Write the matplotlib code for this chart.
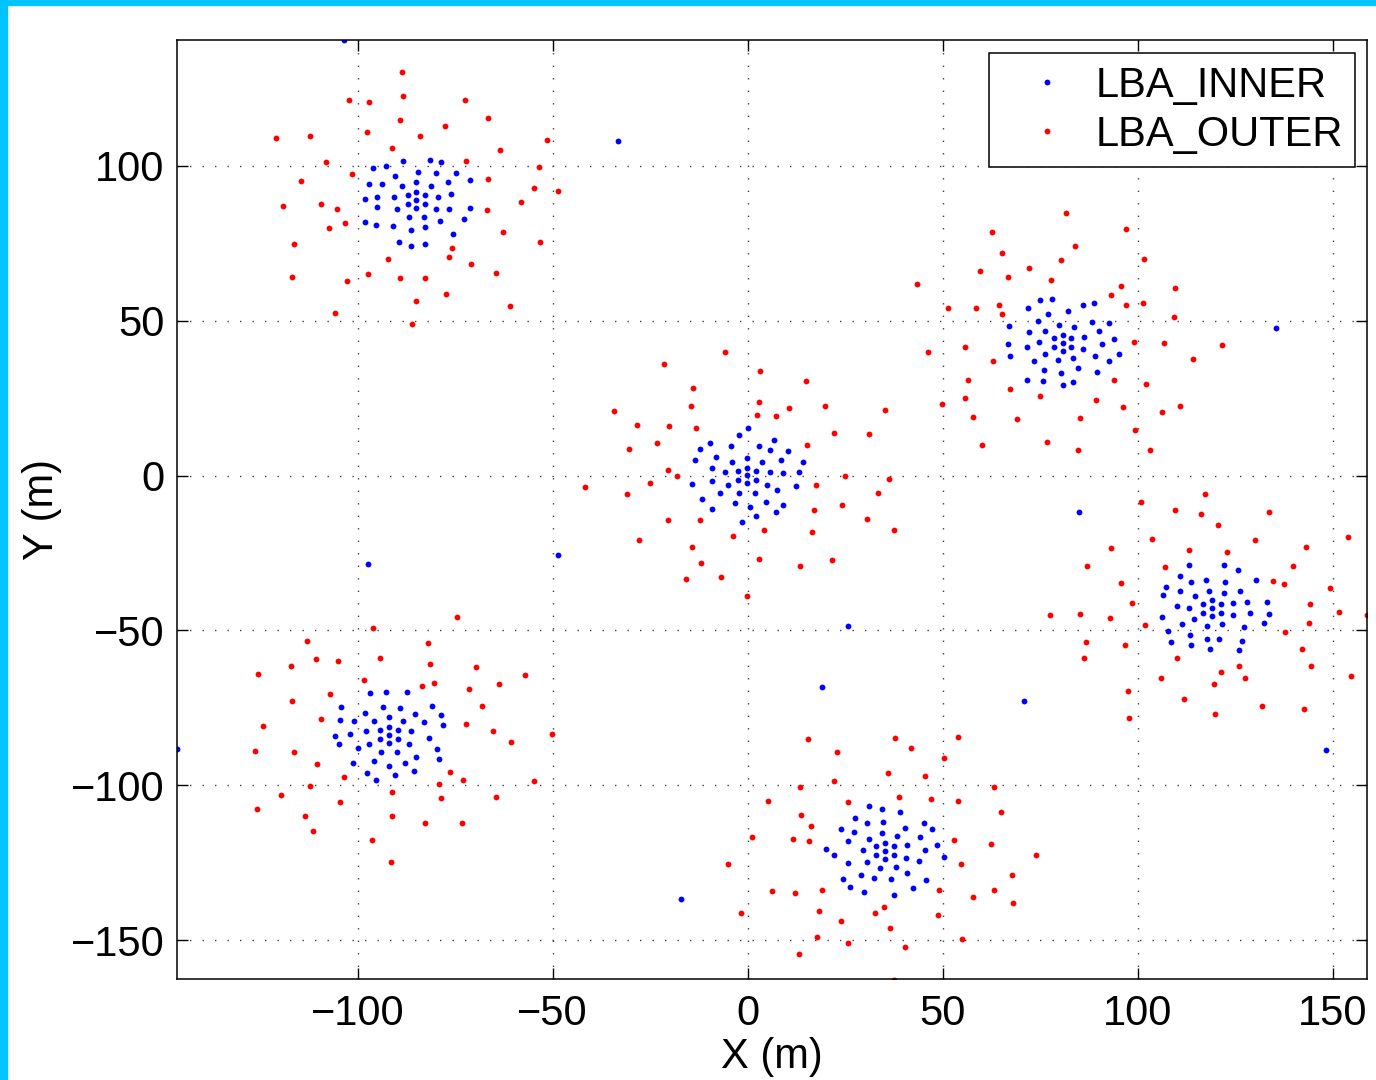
import numpy as np
import matplotlib
matplotlib.use("Agg")
import matplotlib.pyplot as plt
from matplotlib.patches import Rectangle

plt.rcParams['font.family'] = ['Liberation Sans', 'DejaVu Sans']

# antenna positions (m), one list per station
st1_outer = [(-88.6,130.3),(-102.3,121.2),(-97.0,120.7),(-88.3,122.5),(-72.5,121.2),(-66.6,115.5),
             (-89.2,114.8),(-77.6,112.7),(-121.0,108.9),(-112.3,109.6),(-97.6,110.8),(-84.1,109.5),
             (-51.5,108.4),(-91.2,105.8),(-63.4,105.2),(-108.1,101.2),(-72.1,101.5),(-53.6,99.6),
             (-101.4,97.4),(-114.4,95.0),(-66.5,95.6),(-54.8,92.9),(-48.5,92.0),(-58.1,88.3),
             (-119.1,86.9),(-109.5,87.5),(-105.4,85.9),(-66.7,85.7),(-103.3,81.4),(-107.2,79.8),
             (-62.6,78.7),(-116.2,74.9),(-53.2,75.3),(-75.9,73.6),(-76.6,70.7),(-92.1,69.9),
             (-70.9,68.4),(-64.4,65.4),(-97.3,65.2),(-116.8,64.1),(-89.0,63.7),(-82.6,63.8),
             (-102.8,62.8),(-77.4,58.6),(-85.0,56.3),(-61.0,54.8),(-105.7,52.5),(-86.0,49.0)]
st1_inner = [(-88.4,101.6),(-81.4,101.7),(-78.6,101.2),(-96.1,99.2),(-92.8,100.0),(-84.6,98.0),
             (-79.9,97.5),(-74.8,97.5),(-90.3,96.7),(-97.1,94.1),(-93.7,94.1),(-85.0,94.8),
             (-88.7,93.4),(-81.3,93.4),(-76.7,94.6),(-71.3,95.4),(-85.0,91.6),(-87.2,90.4),
             (-82.8,90.4),(-76.0,90.8),(-98.2,89.2),(-95.1,90.0),(-90.7,90.0),(-79.3,90.0),
             (-85.0,89.0),(-87.2,87.7),(-82.8,87.7),(-94.9,86.7),(-90.0,86.1),(-85.0,86.4),
             (-80.0,86.1),(-76.5,86.0),(-71.2,86.5),(-86.9,83.5),(-83.1,83.5),(-98.1,81.7),
             (-95.3,80.8),(-91.0,80.6),(-79.0,82.1),(-72.6,82.8),(-86.2,79.3),(-82.6,80.1),
             (-75.5,78.1),(-89.3,75.5),(-86.4,74.2),(-82.6,74.9)]

st2_outer = [(-5.8,39.8),(-21.5,36.1),(3.2,33.9),(15.0,30.4),(-13.9,28.3),(3.0,23.7),(-14.6,22.4),
             (10.6,21.9),(19.7,22.4),(-34.3,20.7),(35.1,21.1),(2.4,19.6),(7.3,19.1),(-28.4,16.3),
             (-20.1,15.9),(-13.2,15.5),(22.0,13.9),(31.2,13.4),(-23.2,10.6),(-30.3,8.5),(15.2,9.9),
             (-20.3,1.8),(-18.1,-0.3),(25.0,0.0),(36.3,-1.2),(-41.7,-3.8),(-25.0,-2.3),(17.4,-3.2),
             (-30.9,-6.0),(33.3,-5.5),(24.1,-9.4),(17.0,-11.2),(-20.4,-14.3),(-12.2,-14.3),
             (30.6,-14.0),(37.4,-17.6),(4.1,-17.6),(16.6,-18.2),(-3.8,-19.5),(-27.9,-20.8),
             (-14.4,-23.1),(3.0,-26.8),(21.5,-27.2),(-12.0,-28.3),(13.5,-29.3),(-6.8,-32.7),
             (-15.9,-33.3),(-0.2,-38.9)]
st2_inner = [(0.1,15.2),(-2.1,13.0),(6.7,11.5),(-9.7,10.5),(-4.4,9.5),(2.8,9.6),(-12.1,8.6),
             (5.7,8.3),(10.3,8.0),(-8.0,5.9),(-0.1,5.8),(-13.6,5.1),(-3.9,4.5),(3.6,4.5),(8.6,5.1),
             (14.3,4.5),(-9.1,2.5),(-0.1,2.6),(-5.8,1.0),(-2.4,1.4),(2.1,1.4),(5.6,1.0),(9.1,0.9),
             (13.2,1.3),(-0.1,0.1),(-14.3,-2.8),(-9.1,-1.7),(-2.4,-1.3),(2.1,-1.3),(-0.1,-2.5),
             (-5.0,-2.9),(5.0,-2.9),(12.5,-3.3),(-7.0,-5.7),(-2.1,-5.5),(1.9,-5.5),(7.4,-4.7),
             (-11.7,-7.7),(-3.2,-8.8),(4.6,-8.6),(9.1,-9.5),(0.6,-10.0),(-9.2,-10.8),(2.1,-13.0),
             (7.3,-11.6),(-1.5,-15.0)]

st3_outer = [(81.7,84.8),(96.9,79.7),(62.6,78.7),(83.9,74.2),(65.2,71.7),(80.2,69.5),(101.5,69.9),
             (72.2,67.0),(59.6,66.1),(66.7,64.0),(77.8,63.0),(43.4,61.7),(95.7,61.3),(109.6,60.7),
             (93.1,58.2),(51.3,54.0),(58.4,54.2),(64.4,55.1),(97.1,55.1),(101.4,55.7),(65.2,52.2),
             (109.4,51.3),(46.2,40.0),(55.8,41.5),(98.9,43.1),(106.8,42.9),(121.7,42.1),(62.8,37.1),
             (114.2,37.6),(56.4,30.8),(93.8,30.8),(102.0,29.5),(67.2,28.1),(75.0,25.6),(55.6,25.1),
             (89.3,24.4),(49.7,23.1),(110.9,22.5),(96.3,22.1),(106.1,20.5),(57.7,18.8),(69.1,18.4),
             (85.1,18.5),(99.2,14.8),(60.1,9.9),(76.8,10.8),(84.6,8.4),(103.1,8.1)]
st3_inner = [(75.0,56.6),(78.1,56.9),(71.9,54.2),(85.9,55.0),(88.8,55.7),(82.1,53.1),(77.1,52.2),
             (74.3,49.8),(88.3,49.6),(92.5,49.1),(67.1,48.2),(79.8,48.7),(83.7,47.8),(76.3,46.8),
             (90.1,46.8),(72.1,46.2),(80.7,45.4),(78.4,44.4),(82.9,44.3),(86.2,44.6),(93.8,44.2),
             (74.8,43.1),(80.7,42.9),(66.7,42.6),(90.7,42.5),(71.7,41.6),(78.5,41.6),(82.9,41.5),
             (80.7,40.3),(86.0,40.7),(76.1,39.3),(95.2,39.1),(67.2,38.6),(88.9,38.7),(79.5,37.2),
             (83.3,37.8),(73.4,37.1),(92.7,37.0),(84.6,34.8),(76.0,34.1),(80.2,33.1),(89.6,33.4),
             (71.5,30.9),(75.6,30.6),(83.4,30.1),(80.8,29.1)]

st4_outer = [(117.1,-6.0),(100.7,-8.6),(109.5,-11.0),(116.1,-12.4),(133.7,-11.6),(120.6,-15.8),
             (103.6,-20.6),(130.1,-20.7),(153.8,-19.9),(93.1,-23.4),(113.0,-23.9),(122.9,-24.6),
             (143.2,-23.0),(87.1,-29.1),(106.9,-29.4),(139.8,-29.3),(95.6,-34.6),(134.6,-34.1),
             (137.6,-35.0),(149.3,-36.2),(98.6,-41.2),(144.2,-41.4),(77.5,-45.0),(85.2,-44.8),
             (93.0,-46.0),(151.5,-43.9),(158.8,-45.0),(101.9,-48.3),(144.0,-47.6),(137.8,-50.5),
             (86.8,-53.8),(96.8,-54.6),(142.1,-55.9),(86.1,-58.9),(110.0,-58.8),(144.4,-61.4),
             (125.9,-61.4),(121.4,-63.3),(106.0,-65.5),(127.4,-65.3),(154.6,-64.8),(119.6,-67.2),
             (97.5,-69.5),(111.9,-72.1),(131.9,-74.5),(142.6,-75.4),(97.7,-78.1),(119.8,-76.9)]
st4_inner = [(113.2,-28.9),(122.0,-29.0),(125.7,-30.6),(110.9,-32.3),(113.7,-34.3),(117.5,-33.6),
             (122.4,-34.5),(130.2,-33.7),(107.1,-36.0),(110.7,-37.4),(118.2,-37.1),(122.1,-37.9),
             (126.2,-37.1),(106.4,-38.7),(114.7,-38.9),(119.0,-40.2),(116.8,-41.5),(121.3,-41.5),
             (124.4,-41.1),(128.1,-40.8),(133.2,-40.9),(110.0,-42.2),(113.2,-42.7),(119.0,-42.8),
             (116.8,-44.2),(121.3,-44.2),(124.4,-44.9),(128.7,-44.3),(133.6,-44.8),(106.3,-45.8),
             (119.0,-45.4),(114.4,-46.4),(111.3,-48.0),(117.8,-48.6),(121.7,-48.0),(132.3,-47.5),
             (127.3,-49.0),(107.8,-50.3),(113.5,-51.4),(108.4,-53.7),(117.7,-52.9),(120.9,-52.8),
             (126.8,-53.3),(113.6,-54.7),(118.5,-56.1),(125.9,-56.3)]

st5_outer = [(-74.5,-45.6),(-96.1,-49.1),(-112.9,-53.3),(-81.9,-53.9),(-110.6,-59.3),(-105.0,-59.8),
             (-94.3,-58.9),(-117.0,-61.6),(-81.5,-60.9),(-69.6,-61.8),(-125.6,-64.1),(-57.1,-64.4),
             (-98.4,-66.0),(-83.4,-67.9),(-80.3,-67.1),(-63.8,-67.3),(-71.5,-68.9),(-107.1,-70.6),
             (-116.8,-72.9),(-68.2,-74.3),(-109.4,-78.5),(-124.3,-80.9),(-72.1,-80.1),(-65.4,-82.3),
             (-50.2,-83.3),(-60.6,-85.9),(-126.3,-88.8),(-116.2,-89.1),(-110.3,-93.0),(-103.5,-97.4),
             (-76.3,-95.8),(-73.0,-98.3),(-54.8,-98.7),(-112.3,-100.1),(-79.1,-99.7),(-119.6,-103.2),
             (-91.1,-102.1),(-78.5,-104.1),(-64.4,-103.7),(-104.6,-105.4),(-125.9,-107.5),
             (-113.4,-109.9),(-91.1,-109.8),(-82.6,-112.2),(-73.2,-112.1),(-111.3,-114.8),
             (-96.2,-117.6),(-91.4,-124.8)]
st5_inner = [(-96.8,-70.2),(-92.7,-69.7),(-87.3,-69.9),(-104.3,-74.8),(-93.6,-74.7),(-89.0,-74.9),
             (-80.9,-74.5),(-98.0,-76.5),(-85.4,-77.0),(-78.6,-77.4),(-92.0,-77.8),(-104.4,-78.9),
             (-101.0,-79.2),(-95.7,-79.2),(-88.3,-79.2),(-82.9,-79.7),(-78.1,-80.6),(-92.0,-81.0),
             (-97.8,-82.6),(-94.2,-82.2),(-89.7,-82.2),(-86.3,-82.6),(-105.7,-84.2),(-101.9,-83.5),
             (-92.0,-83.7),(-81.7,-84.6),(-94.2,-84.9),(-89.7,-84.9),(-104.8,-86.8),(-97.0,-86.5),
             (-92.0,-86.2),(-86.9,-86.5),(-99.9,-87.8),(-93.9,-89.1),(-89.9,-89.1),(-79.7,-88.4),
             (-95.9,-92.0),(-85.0,-91.0),(-79.1,-91.4),(-101.2,-92.9),(-92.0,-93.6),(-87.9,-92.9),
             (-97.6,-96.0),(-90.4,-96.7),(-85.5,-95.2),(-95.4,-98.4)]

st6_outer = [(15.4,-85.1),(37.7,-84.7),(54.0,-84.3),(22.8,-89.3),(41.8,-87.8),(50.3,-91.1),(36.0,-96.0),
             (45.4,-97.1),(22.0,-98.6),(13.4,-100.5),(63.1,-100.5),(5.1,-105.0),(25.8,-105.5),
             (38.9,-103.7),(46.9,-104.4),(54.0,-105.1),(13.6,-109.6),(65.0,-108.5),(16.3,-113.1),
             (1.2,-116.6),(11.6,-117.2),(15.6,-118.0),(52.9,-117.5),(62.3,-119.0),(-5.0,-125.5),
             (54.6,-125.5),(74.0,-122.6),(67.7,-129.0),(6.3,-134.1),(12.2,-134.8),(19.0,-133.7),
             (49.1,-133.7),(63.1,-133.9),(57.7,-136.1),(67.9,-138.0),(34.9,-139.1),(-1.7,-141.3),
             (18.4,-140.6),(32.7,-141.3),(48.8,-141.9),(23.8,-143.9),(36.4,-146.1),(17.8,-148.9),
             (55.0,-149.7),(25.6,-151.0),(40.2,-152.2),(13.2,-154.5),(37.6,-162.8)]
st6_inner = [(31.2,-106.5),(34.4,-107.7),(39.0,-108.5),(27.6,-110.5),(30.5,-112.2),(34.7,-111.9),
             (45.1,-112.3),(23.9,-114.0),(27.2,-114.9),(40.3,-113.7),(47.2,-114.2),(34.4,-115.4),
             (38.3,-116.3),(44.1,-116.6),(25.7,-117.8),(31.0,-117.2),(35.2,-118.6),(33.0,-119.7),
             (37.6,-119.7),(40.8,-119.3),(48.5,-119.3),(20.2,-120.4),(29.5,-120.9),(35.2,-121.1),
             (45.4,-120.7),(22.1,-122.6),(33.0,-122.5),(37.6,-122.5),(50.3,-123.1),(35.2,-123.7),
             (40.7,-123.3),(25.7,-125.1),(30.7,-124.8),(43.9,-124.5),(38.0,-126.2),(34.0,-126.8),
             (29.1,-128.8),(40.9,-128.2),(24.4,-130.3),(32.5,-130.0),(36.7,-130.3),(45.6,-130.7),
             (26.2,-132.8),(42.5,-133.0),(29.8,-134.4),(37.6,-135.3)]

# single inner antennas lying outside the station clusters
stray_inner = [(-103.6,140.6),(-33.3,108.1),(135.4,47.7),(85.0,-11.9),(-48.5,-25.8),(-97.2,-28.4),
               (25.6,-48.7),(19.0,-68.1),(70.8,-72.9),(-17.2,-136.8),(-146.2,-88.1),(148.2,-88.7)]

inner = np.array(st1_inner + st2_inner + st3_inner + st4_inner + st5_inner + st6_inner + stray_inner)
outer = np.array(st1_outer + st2_outer + st3_outer + st4_outer + st5_outer + st6_outer)

fig = plt.figure(figsize=(13.76, 10.8), dpi=100)
ax = fig.add_axes([0.1286, 0.0935, 0.865, 0.8695])

ax.plot(inner[:, 0], inner[:, 1], 'o', color='#0000ff', ms=4.2, mew=0, label='LBA_INNER')
ax.plot(outer[:, 0], outer[:, 1], 'o', color='#ff0000', ms=4.2, mew=0, label='LBA_OUTER')

ax.set_xlim(-146.3, 158.8)
ax.set_ylim(-162.5, 140.6)
ax.set_xticks([-100, -50, 0, 50, 100, 150])
ax.set_yticks([-150, -100, -50, 0, 50, 100])
ax.grid(True, color='0.25', linestyle=(0, (1, 8)), linewidth=1.0)
ax.tick_params(axis='both', direction='in', length=8, width=1, top=True, right=True,
               labelsize=30)
ax.tick_params(axis='x', pad=11)
ax.tick_params(axis='y', pad=9)
for s in ax.spines.values():
    s.set_linewidth(1.1)

ax.set_xlabel('X (m)', fontsize=30, labelpad=2)
ax.set_ylabel('Y (m)', fontsize=30, labelpad=6)

leg = ax.legend(loc='upper right', bbox_to_anchor=(0.99, 0.986), borderaxespad=0,
                fontsize=30, fancybox=False, framealpha=1, edgecolor='black',
                borderpad=0.3, labelspacing=0.22, handlelength=2.2, handletextpad=0.05,
                markerscale=1.0)
leg.get_frame().set_linewidth(1.1)

# cyan frame strips on the left and top of the picture
fig.patches.append(Rectangle((0, 0), 7 / 1376, 1, transform=fig.transFigure,
                             color='#00c4ff', zorder=10))
fig.patches.append(Rectangle((0, 1 - 5 / 1080), 1, 5 / 1080, transform=fig.transFigure,
                             color='#00c4ff', zorder=10))

fig.savefig('out.png', dpi=100)
